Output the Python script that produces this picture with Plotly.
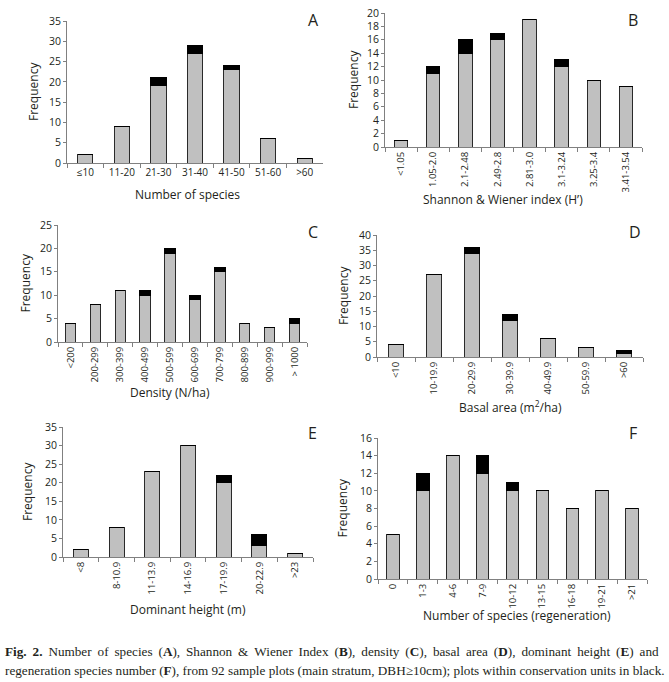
import plotly.graph_objects as go

# ---- data ----
catA = ["≤10", "11-20", "21-30", "31-40", "41-50", "51-60", ">60"]
grayA = [2, 9, 19, 27, 23, 6, 1]
blackA = [0, 0, 2, 2, 1, 0, 0]

catB = ["<1.05", "1.05-2.0", "2.1-2.48", "2.49-2.8", "2.81-3.0", "3.1-3.24", "3.25-3.4", "3.41-3.54"]
grayB = [1, 11, 14, 16, 19, 12, 10, 9]
blackB = [0, 1, 2, 1, 0, 1, 0, 0]

catC = ["<200", "200-299", "300-399", "400-499", "500-599", "600-699", "700-799", "800-899", "900-999", "> 1000"]
grayC = [4, 8, 11, 10, 19, 9, 15, 4, 3, 4]
blackC = [0, 0, 0, 1, 1, 1, 1, 0, 0, 1]

catD = ["<10", "10-19.9", "20-29.9", "30-39.9", "40-49.9", "50-59.9", ">60"]
grayD = [4, 27, 34, 12, 6, 3, 1]
blackD = [0, 0, 2, 2, 0, 0, 1]

catE = ["<8", "8-10.9", "11-13.9", "14-16.9", "17-19.9", "20-22.9", ">23"]
grayE = [2, 8, 23, 30, 20, 3, 1]
blackE = [0, 0, 0, 0, 2, 3, 0]

catF = ["0", "1-3", "4-6", "7-9", "10-12", "13-15", "16-18", "19-21", ">21"]
grayF = [5, 10, 14, 12, 10, 10, 8, 10, 8]
blackF = [0, 2, 0, 2, 1, 0, 0, 0, 0]

panels = [
    dict(cats=catA, gray=grayA, black=blackA, letter="A", title="Number of species",
         ymax=35, dtick=5, angle=0),
    dict(cats=catB, gray=grayB, black=blackB, letter="B", title="Shannon & Wiener index (H’)",
         ymax=20, dtick=2, angle=-90),
    dict(cats=catC, gray=grayC, black=blackC, letter="C", title="Density (N/ha)",
         ymax=25, dtick=5, angle=-90),
    dict(cats=catD, gray=grayD, black=blackD, letter="D", title="Basal area (m<sup>2</sup>/ha)",
         ymax=40, dtick=5, angle=-90),
    dict(cats=catE, gray=grayE, black=blackE, letter="E", title="Dominant height (m)",
         ymax=35, dtick=5, angle=-90),
    dict(cats=catF, gray=grayF, black=blackF, letter="F", title="Number of species (regeneration)",
         ymax=16, dtick=2, angle=-90),
]

W, H = 669, 682
# pixel boxes of plot areas: (x0, x1, ytop, ybottom)
boxes = [
    (67, 323, 21, 163),
    (385, 642, 13, 147),
    (58, 307, 225, 342),
    (377, 643, 235, 357),
    (63, 313, 427, 557),
    (378, 647, 438, 579),
]
xtitle_pos = [(187, 195), (503, 200), (170, 392), (510, 407), (188, 609), (517, 615)]
ytitle_x = [33, 353, 25, 343, 27, 342]
letter_pos = [(313, 20), (633, 20), (313, 232), (635, 232), (312, 433), (633, 433)]

TXT = "#231f20"
FONT = "Open Sans"
GRAY = "#c0c0c0"
EDGE = "#2a2a2a"
AX = "#808080"

fig = go.Figure()
annotations = []

def px(x):
    return x / W

def py(y):
    return 1 - y / H

for i, p in enumerate(panels):
    n = i + 1
    xa = "x" if n == 1 else f"x{n}"
    ya = "y" if n == 1 else f"y{n}"
    fig.add_trace(go.Bar(x=p["cats"], y=p["gray"], xaxis=xa, yaxis=ya,
                         marker=dict(color=GRAY, line=dict(color=EDGE, width=1)),
                         showlegend=False, hoverinfo="x+y"))
    fig.add_trace(go.Bar(x=p["cats"], y=p["black"], xaxis=xa, yaxis=ya,
                         marker=dict(color="#000000", line=dict(color="#000000", width=1)),
                         showlegend=False, hoverinfo="x+y"))
    x0, x1, yt, yb = boxes[i]
    xkey = "xaxis" if n == 1 else f"xaxis{n}"
    ykey = "yaxis" if n == 1 else f"yaxis{n}"
    fig.update_layout(**{
        xkey: dict(domain=[px(x0), px(x1)], anchor=ya, type="category",
                   range=[-0.5, len(p["cats"]) - 0.5], automargin=False,
                   showline=True, linecolor=AX, linewidth=1,
                   ticks="outside", tickson="boundaries", ticklen=4, tickcolor=AX,
                   tickangle=p["angle"],
                   tickfont=dict(family=FONT, size=10 if p["angle"] == 0 else 9.5, color=TXT),
                   showgrid=False, zeroline=False, fixedrange=True),
        ykey: dict(domain=[py(yb), py(yt)], anchor=xa, range=[0, p["ymax"]],
                   dtick=p["dtick"], showline=True, linecolor=AX, linewidth=1,
                   ticks="outside", ticklen=3, tickcolor=AX, automargin=False,
                   tickfont=dict(family=FONT, size=10.5, color=TXT),
                   showgrid=False, zeroline=False, fixedrange=True),
    })
    tx, ty = xtitle_pos[i]
    annotations.append(dict(x=px(tx), y=py(ty), xref="paper", yref="paper", text=p["title"],
                            showarrow=False, xanchor="center", yanchor="middle",
                            font=dict(family=FONT, size=12, color=TXT)))
    annotations.append(dict(x=px(ytitle_x[i]), y=py((yt + yb) / 2), xref="paper", yref="paper",
                            text="Frequency", textangle=-90, showarrow=False,
                            xanchor="center", yanchor="middle",
                            font=dict(family=FONT, size=12, color=TXT)))
    lx, ly = letter_pos[i]
    annotations.append(dict(x=px(lx), y=py(ly), xref="paper", yref="paper", text=p["letter"],
                            showarrow=False, xanchor="center", yanchor="middle",
                            font=dict(family=FONT, size=16, color=TXT)))

caption1 = ("<b>Fig. 2.</b> Number of species (<b>A</b>), Shannon &amp; Wiener Index (<b>B</b>), "
            "density (<b>C</b>), basal area (<b>D</b>), dominant height (<b>E</b>) and")
caption1 = caption1.replace(" ", " \u2009").replace("<b> \u2009", "<b> ")
caption2 = ("regeneration species number (<b>F</b>), from 92 sample plots (main stratum, DBH≥10cm); "
            "plots within conservation units in black.")
annotations.append(dict(x=px(3), y=py(651), xref="paper", yref="paper", text=caption1,
                        showarrow=False, xanchor="left", yanchor="middle",
                        font=dict(family="Liberation Serif", size=13.2, color=TXT)))
annotations.append(dict(x=px(3), y=py(670), xref="paper", yref="paper", text=caption2,
                        showarrow=False, xanchor="left", yanchor="middle",
                        font=dict(family="Liberation Serif", size=13.2, color=TXT)))

fig.update_layout(width=W, height=H,
                  margin=dict(l=0, r=0, t=0, b=0, pad=0, autoexpand=False),
                  paper_bgcolor="white", plot_bgcolor="white",
                  barmode="stack", bargap=0.58, annotations=annotations,
                  showlegend=False)

fig.write_html("out.html", config={"displayModeBar": False},
               post_script="document.body.style.margin='0';document.body.style.overflow='hidden';")
